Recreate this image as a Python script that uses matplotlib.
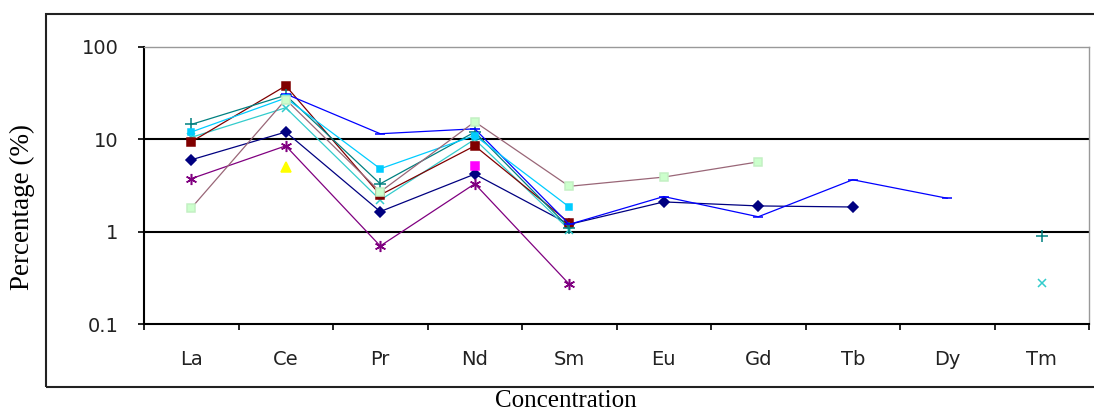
import numpy as np
import matplotlib
matplotlib.use("Agg")
import matplotlib.pyplot as plt
from matplotlib.patches import Rectangle
from matplotlib.ticker import FixedLocator, NullFormatter, FixedFormatter

nan = np.nan

elements = ['La', 'Ce', 'Pr', 'Nd', 'Sm', 'Eu', 'Gd', 'Tb', 'Dy', 'Tm']
y_ticks = [0.1, 1, 10, 100]
y_labels = ['0.1', '1', '10', '100']

# values (percent, log scale)
s_navy = [6.0, 12.0, 1.65, 4.2, 1.2, 2.1, 1.9, 1.85, nan, nan]
s_magenta = [nan, nan, nan, 5.2, nan, nan, nan, nan, nan, nan]
s_yellow = [nan, 5.0, nan, nan, nan, nan, nan, nan, nan, nan]
s_cyan = [10.5, 22.0, 2.2, 10.0, 1.05, nan, nan, nan, nan, 0.28]
s_purple = [3.75, 8.5, 0.7, 3.3, 0.27, nan, nan, nan, nan, nan]
s_maroon = [9.4, 38.0, 2.5, 8.5, 1.25, nan, nan, nan, nan, nan]
s_teal = [14.5, 30.0, 3.3, 12.0, 1.1, nan, nan, nan, nan, 0.9]
s_blue = [nan, 31.0, 11.5, 13.0, 1.2, 2.4, 1.45, 3.65, 2.3, nan]
s_sky = [12.0, 28.0, 4.8, 11.0, 1.85, nan, nan, nan, nan, nan]
s_green = [1.8, 27.0, 2.7, 15.5, 3.1, 3.9, 5.7, nan, nan, nan]

W, H = 1094, 416
fig = plt.figure(figsize=(W / 100, H / 100), dpi=100)
ax = fig.add_axes([144 / W, 1 - 324 / H, (1089 - 144) / W, (324 - 47) / H])

x = np.arange(len(elements))
star = (6, 2, 0)

# line color, marker, marker face, marker edge, marker size
styles = [
    (s_navy, '#000080', 'D', '#000080', '#000080', 5),
    (s_magenta, '#FF00FF', 's', '#FF00FF', '#FF00FF', 6),
    (s_yellow, '#FFFF00', '^', '#FFFF00', '#FFFF00', 7),
    (s_cyan, '#33CCCC', 'x', '#33CCCC', '#33CCCC', 6),
    (s_purple, '#800080', star, '#800080', '#800080', 8),
    (s_maroon, '#800000', 's', '#800000', '#800000', 6),
    (s_teal, '#008080', '+', '#008080', '#008080', 8),
    (s_blue, '#0000FF', '_', '#0000FF', '#0000FF', 7),
    (s_sky, '#00CCFF', 's', '#00CCFF', '#00CCFF', 5),
    (s_green, '#996677', 's', '#CCFFCC', '#C4F0C4', 6),
]

for vals, lc, mk, mf, me, ms in styles:
    ax.plot(x, vals, color=lc, lw=0.9, marker=mk, markerfacecolor=mf,
            markeredgecolor=me, markersize=ms, markeredgewidth=1.1)

ax.set_yscale('log')
ax.set_ylim(0.1, 100)
ax.set_xlim(-0.5, len(elements) - 0.5)

ax.yaxis.set_major_locator(FixedLocator(y_ticks))
ax.yaxis.set_major_formatter(FixedFormatter(y_labels))
ax.yaxis.set_minor_locator(FixedLocator([]))
ax.tick_params(axis='y', which='major', direction='out', length=4.5, width=1.2,
               pad=14, labelsize=14, labelcolor='#222222')

ax.xaxis.set_major_locator(FixedLocator(np.arange(-0.5, len(elements), 1.0)))
ax.xaxis.set_major_formatter(NullFormatter())
ax.xaxis.set_minor_locator(FixedLocator(x))
ax.xaxis.set_minor_formatter(FixedFormatter(elements))
ax.tick_params(axis='x', which='major', direction='out', length=4, width=1.2)
ax.tick_params(axis='x', which='minor', length=0, pad=19, labelsize=14,
               labelcolor='#222222')

for v in [1, 10]:
    ax.axhline(v, color='black', lw=1.5, zorder=1)

ax.spines['left'].set_linewidth(1.5)
ax.spines['bottom'].set_linewidth(1.5)
ax.spines['top'].set_color('#999999')
ax.spines['top'].set_linewidth(1.0)
ax.spines['right'].set_color('#999999')
ax.spines['right'].set_linewidth(1.0)

# outer chart frame (right side runs off the image)
frame = Rectangle((46 / W, 1 - 387 / H), 1.05, (387 - 14) / H, transform=fig.transFigure,
                  fill=False, edgecolor='#222222', lw=1.5)
fig.add_artist(frame)

fig.text(22 / W, 1 - 207 / H, 'Percentage (%)', rotation=90, ha='center', va='center',
         family='Liberation Serif', fontsize=19.5)
fig.text(566 / W, 1 - 401 / H, 'Concentration', ha='center', va='center',
         family='Liberation Serif', fontsize=18)

fig.savefig('out.png', dpi=100)
